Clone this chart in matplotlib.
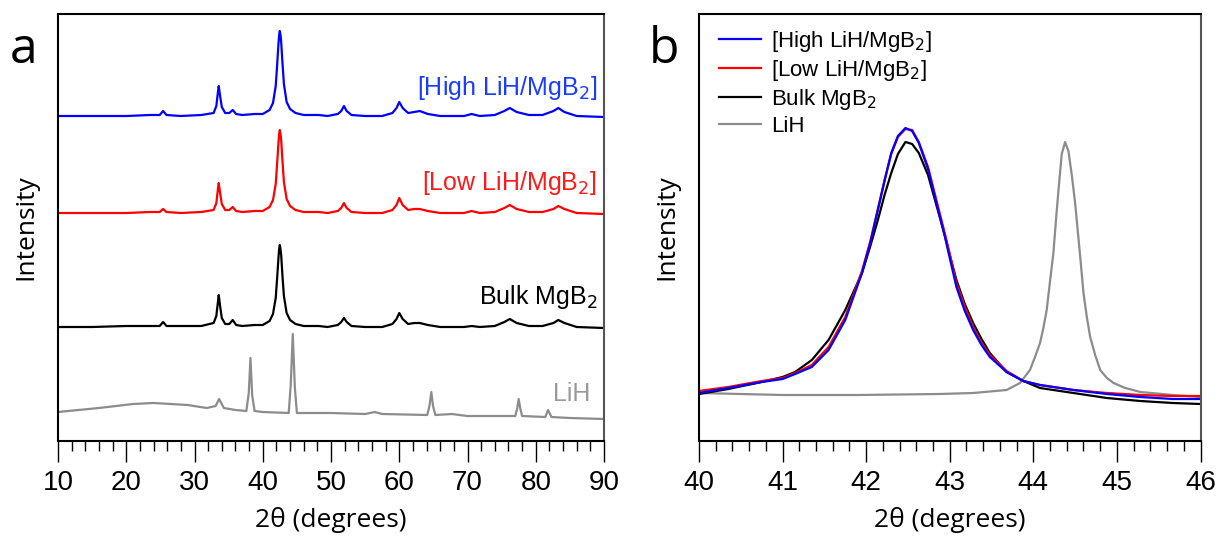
import numpy as np
import matplotlib.pyplot as plt
from matplotlib.ticker import MultipleLocator

# ---- panel a : XRD patterns (intensity above each baseline, a.u.) ----
x_mgb2 = [10, 15, 20, 23.5, 24.9, 25.4, 25.9, 28, 31, 32.8, 33.2, 33.4, 33.55, 33.75,
          34.0, 34.5, 35.1, 35.6, 36.1, 37.0, 38.8, 40.0, 41.0, 41.5, 41.9, 42.1, 42.3,
          42.4, 42.5, 42.6, 42.7, 42.9, 43.1, 43.5, 44.0, 44.8, 46.0, 48.2, 49.5, 51.0,
          51.5, 51.9, 52.3, 53.0, 55.0, 57.5, 59.0, 59.6, 60.0, 60.5, 61.3, 62.2, 63.0,
          64.2, 66.0, 69.5, 70.6, 71.8, 74.0, 75.4, 76.2, 77.2, 79.0, 81.0, 82.6, 83.3,
          84.2, 86.0, 90.0]
high = [0, 0, 0, 1, 1, 5, 1, 0, 1, 3, 10, 22, 30, 20,
        9, 3, 3, 6, 2, 1, 2, 2, 6, 13, 30, 50, 72,
        81, 85, 81, 74, 52, 32, 14, 7, 3, 1, 1, 0, 2,
        5, 10, 5, 1, 0, 0, 3, 8, 14, 8, 3, 4, 5,
        2, 0, 0, 2, 0, 1, 5, 8, 4, 1, 1, 5, 8,
        4, 0, -1]
low = [0, 0, 0, 1, 1, 4, 1, 0, 1, 3, 10, 22, 30, 20,
       9, 3, 3, 6, 2, 1, 2, 2, 6, 13, 29, 49, 70,
       79, 83, 79, 73, 51, 31, 14, 7, 3, 1, 1, 0, 2,
       5, 10, 5, 1, 0, 0, 3, 8, 15, 8, 3, 4, 4,
       2, 0, 0, 2, 0, 1, 5, 8, 4, 1, 1, 4, 7,
       4, 0, -1]
bulk = [0, 0, 1, 1, 1, 5, 1, 1, 1, 4, 11, 23, 32, 21,
        9, 3, 3, 7, 2, 1, 2, 2, 6, 13, 29, 48, 69,
        78, 82, 78, 72, 50, 31, 14, 7, 3, 1, 1, 0, 2,
        5, 9, 5, 1, 0, 0, 3, 8, 14, 8, 3, 4, 4,
        2, 0, 0, 1, 0, 1, 5, 8, 4, 1, 1, 4, 7,
        4, 0, -1]

x_lih = [10, 16, 21, 24, 29, 31.8, 33.1, 33.6, 34.3, 36, 37.6, 37.95, 38.2, 38.45, 38.8,
         40, 43.8, 44.1, 44.4, 44.7, 45.0, 50, 55, 56.4, 57.5, 64.1, 64.45, 64.7, 64.95,
         65.3, 67.7, 70, 77.0, 77.3, 77.5, 77.75, 78.0, 81.4, 81.8, 82.3, 85, 90]
lih = [3, 7, 11, 12, 10, 7, 9, 16, 7, 5, 4, 22, 57, 20, 4,
       3, 2, 30, 81, 28, 2, 2, 1, 3, 1, 0, 10, 23, 9,
       0, 1, -1, -1, 7, 16, 6, -1, -2, 5, -2, -3, -4]

labels_a = ["[High LiH/MgB$_2$]", "[Low LiH/MgB$_2$]", "Bulk MgB$_2$", "LiH"]
offsets = [325, 228, 114, 26]

# ---- panel b : zoom on the main reflection ----
x_b = [40.0, 40.35, 40.75, 41.0, 41.15, 41.35, 41.55, 41.75, 41.95, 42.05, 42.14, 42.22,
       42.3, 42.38, 42.47, 42.55, 42.63, 42.74, 42.84, 42.94, 43.0, 43.08, 43.18, 43.28,
       43.38, 43.48, 43.68, 43.88, 44.08, 44.48, 44.88, 45.28, 45.67, 46.0]
b_high = [48, 53, 59, 62, 67, 74, 91, 121, 168, 198, 231, 260,
          288, 305, 313, 310, 298, 272, 238, 205, 183, 154, 130, 111,
          96, 84, 69, 60, 56, 51, 47, 44, 42, 42]
b_low = [50, 54, 60, 63, 68, 76, 94, 124, 170, 200, 232, 261,
         287, 304, 312, 311, 299, 274, 241, 208, 187, 158, 134, 114,
         98, 86, 70, 60, 56, 51, 48, 46, 45, 45]
b_bulk = [47, 52, 59, 64, 69, 81, 101, 131, 168, 195, 221, 246,
          268, 287, 299, 297, 288, 266, 236, 206, 186, 161, 137, 118,
          102, 88, 69, 60, 53, 48, 43, 40, 38, 37]

x_b_lih = [40.0, 40.5, 41.0, 41.9, 42.88, 43.28, 43.68, 43.84, 43.96, 44.02,
           44.08, 44.12, 44.16, 44.2, 44.24, 44.27, 44.3, 44.34, 44.38, 44.42,
           44.46, 44.5, 44.56, 44.6, 44.64, 44.68, 44.74, 44.8, 44.88, 44.96,
           45.1, 45.28, 45.67, 46.0]
b_lih = [48, 47, 46, 46, 47, 48, 51, 58, 71, 84,
         98, 113, 131, 160, 188, 220, 250, 287, 299, 290,
         266, 238, 185, 148, 124, 104, 86, 71, 63, 58,
         53, 49, 46, 44]

colors = ["#0000ff", "#ff0000", "#000000", "#8c8c8c"]
text_colors = ["#1a3cff", "#ff1a1a", "#000000", "#9a9a9a"]

plt.rcParams['font.family'] = ['Liberation Sans', 'DejaVu Sans']

fig = plt.figure(figsize=(12.2, 5.47), dpi=100)
ax1 = fig.add_axes([58 / 1220, 106 / 547, 546 / 1220, 427 / 547])
ax2 = fig.add_axes([699 / 1220, 106 / 547, 501.5 / 1220, 427 / 547])

series_a = [(x_mgb2, high), (x_mgb2, low), (x_mgb2, bulk), (x_lih, lih)]
for (xs, ys), off, c in zip(series_a, offsets, colors):
    ax1.plot(xs, np.array(ys) + off, color=c, lw=1.6, solid_joinstyle='round')

label_y = [353, 258, 144, 47]
label_x = [89, 89, 89, 88]
for t, lx, ly, c in zip(labels_a, label_x, label_y, text_colors):
    ax1.text(lx, ly, t, color=c, fontsize=18, ha='right', va='center')

ax1.set_xlim(10, 90)
ax1.set_ylim(0, 427)
ax1.xaxis.set_major_locator(MultipleLocator(10))
ax1.xaxis.set_minor_locator(MultipleLocator(2))

ax2.plot(x_b_lih, b_lih, color=colors[3], lw=1.6, label=labels_a[3], solid_joinstyle='round')
ax2.plot(x_b, b_bulk, color=colors[2], lw=1.6, label=labels_a[2], solid_joinstyle='round')
ax2.plot(x_b, b_low, color=colors[1], lw=1.6, label=labels_a[1], solid_joinstyle='round')
ax2.plot(x_b, b_high, color=colors[0], lw=1.6, label=labels_a[0], solid_joinstyle='round')
ax2.set_xlim(40, 46)
ax2.set_ylim(0, 427)
ax2.xaxis.set_major_locator(MultipleLocator(1))
ax2.xaxis.set_minor_locator(MultipleLocator(0.2))

h, l = ax2.get_legend_handles_labels()
ax2.legend(h[::-1], l[::-1], loc='upper left', frameon=False, fontsize=16,
           handlelength=1.9, handletextpad=0.45, labelspacing=0.18,
           borderaxespad=0.5, bbox_to_anchor=(0.0, 1.012))

letter_x = [-0.088, -0.1]
for ax, letter, lx in ((ax1, "a", letter_x[0]), (ax2, "b", letter_x[1])):
    ax.set_yticks([])
    ax.tick_params(axis='x', which='major', direction='out', length=15, width=1.0,
                   labelsize=20, pad=6, top=False)
    ax.tick_params(axis='x', which='minor', direction='out', length=7, width=1.0, top=False)
    for s in ax.spines.values():
        s.set_linewidth(1.5)
    ax.spines['right'].set_color('#555555')
    ax.set_xlabel("2θ (degrees)", fontsize=19, family=['Open Sans', 'DejaVu Sans'], labelpad=8)
    ax.set_ylabel("Intensity", fontsize=19, family=['Open Sans', 'DejaVu Sans'], labelpad=14)
    ax.text(lx, 0.885, letter, transform=ax.transAxes, fontsize=36,
            family=['Open Sans', 'DejaVu Sans'], ha='left', va='baseline')

fig.savefig("out.png", dpi=100)
